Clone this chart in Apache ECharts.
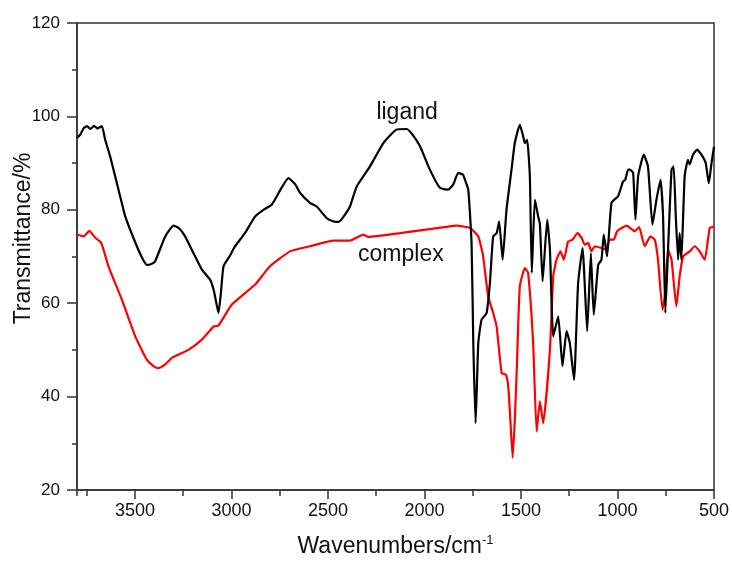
<!DOCTYPE html>
<html>
<head>
<meta charset="utf-8">
<script src="https://cdn.jsdelivr.net/npm/echarts@6/dist/echarts.min.js"></script>
<style>html,body{margin:0;padding:0;background:#fff;}#c{width:732px;height:563px;}</style>
</head>
<body>
<div id="c"></div>
<script>
const xTicks = [500, 1000, 1500, 2000, 2500, 3000, 3500];
const yTicks = [20, 40, 60, 80, 100, 120];

const ligandWn = [3800,3783,3765,3748,3730,3712,3695,3671,3654,3628,3585,3550,3498,3460,3438,3415,3395,3343,3300,3270,3240,3200,3153,3110,3090,3067,3055,3041,3010,2981,2930,2877,2834,2791,2750,2705,2670,2644,2593,2558,2506,2470,2446,2420,2386,2351,2282,2213,2144,2092,2060,2023,1972,1920,1877,1850,1825,1800,1790,1773,1756,1747,1735,1721,1704,1678,1661,1644,1626,1613,1595,1575,1549,1532,1506,1490,1480,1468,1454,1444,1428,1411,1402,1388,1364,1350,1333,1307,1285,1264,1247,1225,1204,1181,1157,1138,1123,1100,1083,1071,1054,1031,997,971,960,945,936,919,907,893,864,842,819,798,777,764,752,738,720,709,698,686,678,669,652,635,626,609,588,565,543,527,513,500];
const ligandT = [95.4,96.1,97.5,97.9,97.3,98.0,97.4,97.9,95,91.4,84.3,78.6,73,69.5,68.2,68.4,69,74.3,76.6,76,74.3,71,67.2,65,62.5,57.9,62,67.9,70,72.2,75,78.6,80,81.1,84,86.8,85.5,83.6,81.5,80.7,78.2,77.5,77.4,78.5,80.7,85,89.3,94.3,97.2,97.3,96,93.6,88.6,84.7,84.3,85.5,87.9,87.5,86.4,84.3,72.9,51.5,34.3,51.5,56.5,57.9,64.3,74.3,75,77.5,69.3,80,88.6,94.3,98.2,96,94.3,95,87.2,66.5,82.2,78.6,77,64.7,77.9,71.5,52.9,57.2,46.5,54,51.5,43.6,64.3,71.8,54,70.7,57.5,68.2,69.3,74.7,70,81.5,82.9,86.1,86.4,88.6,88.6,87.9,77.9,87.2,91.8,89.3,76.8,82.2,86.4,78.6,57.9,71.5,88.6,89.3,78.6,69.3,75,69.3,87.2,90.7,89.7,91.8,92.9,91.8,90,85.7,90,93.5];

const complexWn = [3800,3766,3736,3705,3674,3637,3567,3498,3438,3400,3378,3340,3309,3223,3153,3093,3067,2998,2877,2800,2696,2593,2472,2386,2317,2291,2127,1877,1833,1764,1721,1696,1670,1644,1626,1600,1578,1566,1555,1543,1532,1523,1506,1480,1463,1437,1419,1402,1385,1350,1333,1316,1295,1278,1256,1233,1207,1186,1169,1152,1135,1117,1083,1061,1040,1019,1002,953,910,888,859,829,807,790,767,755,738,720,695,678,660,626,600,574,548,522,500];
const complexT = [74.7,74.3,75.5,74,72.9,67.9,60.7,52.9,47.9,46.4,46.1,47,48.3,50,52.2,55,55.2,59.7,64,67.9,71.1,72.2,73.4,73.4,74.7,74.2,75,76.4,76.6,76.1,74.3,70,61.5,57.9,55,45,44.7,42.2,35,26.9,35,44.3,63.6,67.5,66.5,51.5,32.5,39,34.3,50,65.7,69.3,71.1,69.3,73.2,73.6,75,74,72.5,72.9,71.1,72.2,71.8,71.5,73.6,73.6,75.4,76.6,75.4,76.3,72.2,74.3,73.6,69.3,58.6,61.5,71.5,69.3,59.3,65.7,70,71.1,72.2,71.1,69.3,76.1,76.4];

const labels = [
  {text: 'ligand', wn: 2090, t: 100.8},
  {text: 'complex', wn: 2122, t: 70.4}
];

const FONT = '"Liberation Sans", Arial, sans-serif';
const axisColor = '#333';
const textColor = '#111';

function pairs(a, b) { return a.map((v, i) => [v, b[i]]); }

const chart = echarts.init(document.getElementById('c'), null, {renderer: 'canvas'});
const xMin = 500, xMax = 3800;
chart.setOption({
  animation: false,
  backgroundColor: '#fff',
  grid: {left: 77, right: 18, top: 23, bottom: 73, show: true, borderColor: axisColor, borderWidth: 1.5,
    containLabel: false, outerBoundsMode: 'none'},
  xAxis: [{
    type: 'value', min: xMin, max: xMax, interval: 500, inverse: true,
    name: 'Wavenumbers/cm{sup|-1}', nameLocation: 'middle', nameGap: 44,
    nameTextStyle: {fontFamily: FONT, fontSize: 23, color: textColor, rich: {sup: {fontSize: 13, verticalAlign: 'top', padding: [0,0,12,0], fontFamily: FONT, color: textColor}}},
    axisLine: {show: true, lineStyle: {color: axisColor, width: 1.5}},
    axisTick: {show: true, inside: false, length: 9, lineStyle: {color: axisColor, width: 1.5}},
    axisLabel: {show: true, margin: 12, fontFamily: FONT, fontSize: 18, color: textColor, showMaxLabel: false,
      formatter: v => xTicks.includes(v) ? String(v) : ''},
    splitLine: {show: false}
  }, {
    type: 'value', min: xMin, max: xMax, interval: 250, inverse: true, position: 'bottom',
    axisLine: {show: false},
    axisTick: {show: true, inside: false, length: 6, lineStyle: {color: axisColor, width: 1.5}},
    axisLabel: {show: false}, splitLine: {show: false}
  }],
  yAxis: {
    type: 'value', min: 20, max: 120, interval: 20,
    name: 'Transmittance/%', nameLocation: 'middle', nameGap: 42, nameMoveOverlap: false,
    nameTextStyle: {fontFamily: FONT, fontSize: 23, color: textColor, padding: [0, 0, 0, 36]},
    axisLine: {show: true, lineStyle: {color: axisColor, width: 1.5}},
    axisTick: {show: true, inside: false, length: 10, lineStyle: {color: axisColor, width: 1.5}},
    minorTick: {show: true, splitNumber: 2, length: 5, lineStyle: {color: axisColor, width: 1.5}},
    axisLabel: {margin: 17, fontFamily: FONT, fontSize: 17, color: textColor,
      formatter: v => yTicks.includes(v) ? String(v) : ''},
    splitLine: {show: false}
  },
  series: [{
    type: 'line', name: 'ligand', data: pairs(ligandWn, ligandT), showSymbol: false, smooth: 0.15,
    lineStyle: {color: '#000', width: 2.2}, itemStyle: {color: '#000'}, z: 3,
    markPoint: {symbol: 'circle', symbolSize: 0, silent: true,
      label: {show: true, position: 'inside', formatter: p => p.name, fontFamily: FONT, fontSize: 23, color: textColor},
      data: [{name: labels[0].text, coord: [labels[0].wn, labels[0].t]}]}
  }, {
    type: 'line', name: 'complex', data: pairs(complexWn, complexT), showSymbol: false, smooth: 0.15,
    lineStyle: {color: '#ff0000', width: 2.2}, itemStyle: {color: '#ff0000'}, z: 2,
    markPoint: {symbol: 'circle', symbolSize: 0, silent: true,
      label: {show: true, position: 'inside', formatter: p => p.name, fontFamily: FONT, fontSize: 23, color: textColor},
      data: [{name: labels[1].text, coord: [labels[1].wn, labels[1].t]}]}
  }]
});
</script>
</body>
</html>
